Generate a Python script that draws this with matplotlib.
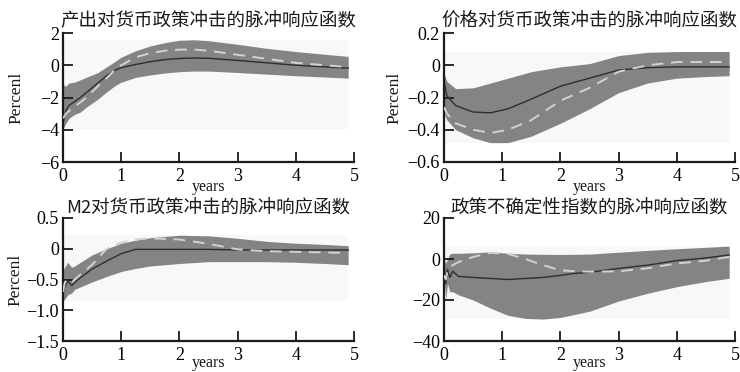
import matplotlib
matplotlib.use("Agg")
import matplotlib.pyplot as plt
from matplotlib.patches import Rectangle

plt.rcParams['font.family'] = ['Liberation Serif', 'Noto Sans CJK SC']
plt.rcParams['axes.unicode_minus'] = True

# ---- impulse responses (years after shock) ----
# output
x_out = [0, 0.05, 0.1, 0.2, 0.3, 0.4, 0.5, 0.6, 0.75, 0.9, 1.0, 1.25, 1.5, 1.75,
         2.0, 2.25, 2.5, 3.0, 3.5, 4.0, 4.5, 4.9]
out_mid = [-3.6, -2.8, -2.5, -2.25, -2.0, -1.7, -1.4, -1.1, -0.65, -0.3, -0.15, 0.05,
           0.22, 0.35, 0.42, 0.45, 0.43, 0.3, 0.15, 0.0, -0.1, -0.18]
out_alt = [-3.3, -3.0, -2.85, -2.55, -2.3, -2.0, -1.65, -1.3, -0.8, -0.25, 0.0, 0.5,
           0.75, 0.9, 0.97, 0.97, 0.9, 0.65, 0.4, 0.15, 0.0, -0.12]
out_hi = [-1.2, -1.3, -1.1, -1.05, -0.9, -0.75, -0.6, -0.45, -0.1, 0.25, 0.5, 0.9,
          1.2, 1.4, 1.55, 1.58, 1.52, 1.3, 1.05, 0.85, 0.68, 0.55]
out_lo = [-3.95, -3.6, -3.3, -3.05, -2.9, -2.6, -2.35, -2.1, -1.65, -1.25, -1.05, -0.75,
          -0.6, -0.48, -0.4, -0.36, -0.36, -0.45, -0.55, -0.65, -0.73, -0.8]

# price level
x_prc = [0, 0.05, 0.2, 0.5, 0.8, 1.1, 1.5, 2.0, 2.5, 3.0, 3.5, 4.0, 4.5, 4.9]
prc_mid = [-0.10, -0.19, -0.25, -0.29, -0.295, -0.27, -0.21, -0.13, -0.08, -0.03,
           -0.015, -0.01, -0.01, -0.01]
prc_alt = [-0.26, -0.30, -0.36, -0.40, -0.42, -0.40, -0.34, -0.22, -0.14, -0.04,
           0.0, 0.02, 0.02, 0.02]
prc_hi = [-0.05, -0.10, -0.145, -0.14, -0.11, -0.08, -0.04, -0.01, 0.01, 0.06,
          0.08, 0.085, 0.085, 0.085]
prc_lo = [-0.30, -0.34, -0.40, -0.45, -0.48, -0.48, -0.44, -0.36, -0.27, -0.17,
          -0.11, -0.08, -0.07, -0.065]

# M2
x_m2 = [0, 0.03, 0.08, 0.15, 0.2, 0.3, 0.5, 0.75, 1.0, 1.25, 1.5, 2.0, 2.5, 3.0,
        3.5, 4.0, 4.5, 4.9]
m2_mid = [-0.72, -0.62, -0.52, -0.6, -0.55, -0.47, -0.33, -0.2, -0.08, -0.01, -0.01,
          -0.01, -0.01, -0.02, -0.02, -0.02, -0.02, -0.02]
m2_alt = [-0.7, -0.55, -0.5, -0.55, -0.5, -0.42, -0.26, 0.0, 0.1, 0.15, 0.17, 0.15,
          0.08, -0.01, -0.04, -0.05, -0.06, -0.07]
m2_hi = [-0.35, -0.3, -0.22, -0.3, -0.28, -0.22, -0.1, 0.0, 0.09, 0.14, 0.18, 0.22,
         0.21, 0.17, 0.12, 0.09, 0.07, 0.05]
m2_lo = [-0.85, -0.82, -0.75, -0.72, -0.66, -0.62, -0.54, -0.45, -0.37, -0.32, -0.28,
         -0.24, -0.21, -0.21, -0.21, -0.22, -0.24, -0.26]

# policy uncertainty index
x_epu = [0, 0.03, 0.06, 0.1, 0.15, 0.25, 0.5, 0.8, 1.1, 1.4, 1.7, 2.0, 2.25, 2.5,
         3.0, 3.5, 4.0, 4.5, 4.9]
epu_mid = [-3, -12, -5, -9, -6, -8.5, -9, -9.5, -10, -9.5, -9, -8, -7, -6.5,
           -4.6, -3, -0.8, 0.5, 2]
epu_alt = [-8, -10, -6, -4, -3, -1.5, 1.0, 3.0, 2.5, 0.0, -3.0, -5.5, -6.0, -6.2,
           -6.0, -4.5, -2.2, -0.8, 1.0]
epu_hi = [0, -2, 0, 2.5, 2.8, 2.8, 3.0, 3.5, 2.8, 2.4, 2.3, 2.2, 2.3, 2.4,
          3.3, 4.2, 5.0, 5.7, 6.3]
epu_lo = [-8, -20, -12, -16, -16, -17.5, -20, -24, -27.5, -29, -29.3, -28.5, -27,
          -25.5, -20.5, -16.7, -13.5, -11, -9.4]

titles = ['产出对货币政策冲击的脉冲响应函数', '价格对货币政策冲击的脉冲响应函数',
          'M2对货币政策冲击的脉冲响应函数', '政策不确定性指数的脉冲响应函数']
x_ticks = [0, 1, 2, 3, 4, 5]
y_ticks = [[2, 0, -2, -4, -6], [0.2, 0, -0.2, -0.4, -0.6],
           [0.5, 0, -0.5, -1.0, -1.5], [20, 0, -20, -40]]
y_ticklabels = [['2', '0', '\u22122', '\u22124', '\u22126'],
                ['0.2', '0', '\u22120.2', '\u22120.4', '\u22120.6'],
                ['0.5', '0', '\u22120.5', '\u22121.0', '\u22121.5'],
                ['20', '0', '\u221220', '\u221240']]
y_label = 'Percenl'
x_label = 'years'

panels = [
    (x_out, out_mid, out_alt, out_hi, out_lo),
    (x_prc, prc_mid, prc_alt, prc_hi, prc_lo),
    (x_m2, m2_mid, m2_alt, m2_hi, m2_lo),
    (x_epu, epu_mid, epu_alt, epu_hi, epu_lo),
]

W, H = 740, 372
fig = plt.figure(figsize=(W / 100, H / 100), dpi=100)
fig.patch.set_facecolor('white')

# axes boxes in pixels: left, top, right, bottom
boxes = [(63, 33, 354, 162), (444, 33, 735, 162),
         (63, 218, 354, 341), (444, 218, 735, 341)]
title_pads = [5.0, 5.0, 0.8, 0.8]
ylabel_x = [-0.134, -0.144, -0.137, None]
xlabel_y = [-0.13, -0.13, -0.112, -0.112]

for i, (box, data) in enumerate(zip(boxes, panels)):
    l, t, r, b = box
    ax = fig.add_axes([l / W, 1 - b / H, (r - l) / W, (b - t) / H])
    x, mid, alt, hi, lo = data

    # faint frame around the plotted region
    ax.add_patch(Rectangle((x[0], min(lo)), x[-1] - x[0], max(hi) - min(lo),
                           facecolor='#f8f8f8', edgecolor='none', zorder=0))
    ax.fill_between(x, lo, hi, color='#848484', lw=0, zorder=1)
    ax.plot(x, alt, color='#d2d2d2', lw=1.4, dashes=(6, 4), zorder=3)
    ax.plot(x, mid, color='#2e2e2e', lw=1.0, zorder=2)

    ax.set_xlim(0, 5)
    ax.set_ylim(y_ticks[i][-1], y_ticks[i][0])
    ax.set_xticks(x_ticks)
    ax.set_xticklabels([str(v) for v in x_ticks])
    ax.set_yticks(y_ticks[i])
    ax.set_yticklabels(y_ticklabels[i])

    for s in ('top', 'right'):
        ax.spines[s].set_visible(False)
    for s in ('left', 'bottom'):
        ax.spines[s].set_linewidth(1.6)
        ax.spines[s].set_color('#1a1a1a')
    ax.tick_params(direction='in', length=7, width=1.3, color='#1a1a1a',
                   labelsize=13, pad=3)
    ax.tick_params(axis='x', pad=4)

    ax.set_title(titles[i], fontsize=13.3, family=['Noto Sans CJK SC'],
                 pad=title_pads[i], color='#1a1a1a')
    ax.set_xlabel(x_label, fontsize=11.5, color='#1a1a1a')
    ax.xaxis.set_label_coords(0.5, xlabel_y[i])
    if ylabel_x[i] is not None:
        ax.set_ylabel(y_label, fontsize=12.5, color='#1a1a1a')
        ax.yaxis.set_label_coords(ylabel_x[i], 0.5)

fig.savefig('out.png', dpi=100)
